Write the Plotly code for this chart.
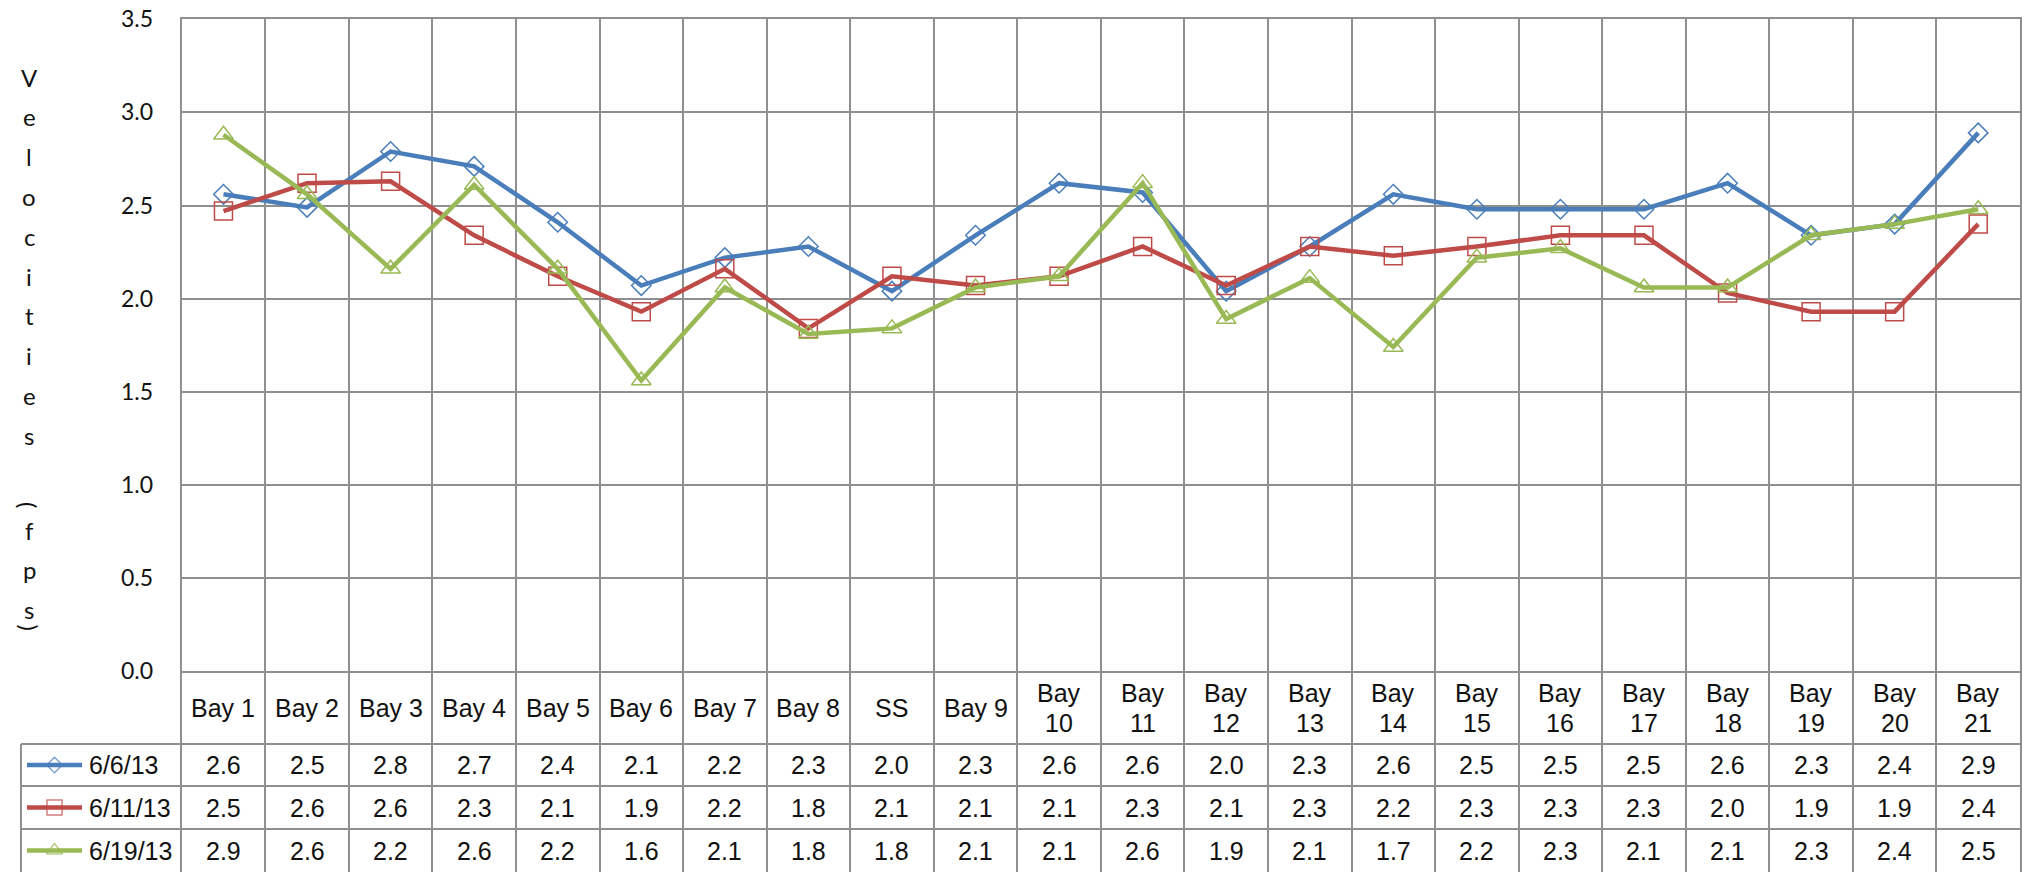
import plotly.graph_objects as go

# ---------------- data ----------------
categories = ["Bay 1", "Bay 2", "Bay 3", "Bay 4", "Bay 5", "Bay 6", "Bay 7", "Bay 8", "SS",
              "Bay 9", "Bay 10", "Bay 11", "Bay 12", "Bay 13", "Bay 14", "Bay 15", "Bay 16",
              "Bay 17", "Bay 18", "Bay 19", "Bay 20", "Bay 21"]
series_names = ["6/6/13", "6/11/13", "6/19/13"]
vel_0606 = [2.56, 2.49, 2.79, 2.71, 2.41, 2.07, 2.22, 2.28, 2.04, 2.34, 2.62, 2.57, 2.04, 2.28,
            2.56, 2.48, 2.48, 2.48, 2.62, 2.34, 2.40, 2.89]
vel_0611 = [2.47, 2.62, 2.63, 2.34, 2.12, 1.93, 2.16, 1.84, 2.12, 2.07, 2.12, 2.28, 2.07, 2.28,
            2.23, 2.28, 2.34, 2.34, 2.03, 1.93, 1.93, 2.40]
vel_0619 = [2.88, 2.56, 2.16, 2.61, 2.16, 1.56, 2.06, 1.81, 1.84, 2.06, 2.12, 2.62, 1.89, 2.11,
            1.74, 2.22, 2.27, 2.06, 2.06, 2.34, 2.40, 2.48]
y_ticks = [0.0, 0.5, 1.0, 1.5, 2.0, 2.5, 3.0, 3.5]
y_title = "Velocities (fps)"

# ---------------- styles / layout geometry (pixels) ----------------
W, H = 2027, 872
PLOT_L, PLOT_R, PLOT_T, AXIS_Y, TABLE_B, LEG_L = 181.7, 2020, 19.3, 671, 872, 21
ROW_LINES = [744, 786, 829]
GRID = "#8f8f8f"
TXT = "#111111"
colors = ["#4A7EBB", "#BE4B48", "#98B954"]
symbols = ["diamond-open", "square-open", "triangle-up-open"]
msizes = [15, 18, 17]
TABLE_FONT = dict(family="Liberation Sans, Arial, sans-serif", size=25, color=TXT)
AXIS_FONT = dict(family="Lato, Carlito, Calibri, sans-serif", size=23, color=TXT)

def yt(py):  # pixel row -> y2 units (pixels above bottom)
    return TABLE_B - py

values = [vel_0606, vel_0611, vel_0619]

fig = go.Figure()
for name, vals, c, s, ms in zip(series_names, values, colors, symbols, msizes):
    fig.add_trace(go.Scatter(
        x=categories, y=vals, name=name, mode="lines+markers",
        line=dict(color=c, width=4.5),
        marker=dict(symbol=s, size=ms, color=c, line=dict(color=c, width=1.5)),
        xaxis="x", yaxis="y", showlegend=False, hoverinfo="x+y+name"))

# legend keys inside the data table
row_centers = [(744 + 786) / 2, (786 + 829) / 2, (829 + 872) / 2]
for i, (c, s, ms) in enumerate(zip(colors, symbols, msizes)):
    yc = yt(row_centers[i])
    fig.add_trace(go.Scatter(
        x=[27, 54.5, 82], y=[yc, yc, yc], mode="lines+markers",
        line=dict(color=c, width=4.5),
        marker=dict(symbol=s, size=[0, ms - 3, 0], color=c, line=dict(color=c, width=1.5)),
        xaxis="x3", yaxis="y2", showlegend=False, hoverinfo="skip"))

annotations = []
# header labels
for cat in categories:
    words = cat.split(" ")
    if len(cat) > 5:
        parts = [(words[0], 15), (words[1], -15)]
    else:
        parts = [(cat, 0)]
    for txt, off in parts:
        annotations.append(dict(x=cat, y=yt((671 + 744) / 2) + off, xref="x2", yref="y2",
                                text=txt, showarrow=False, font=TABLE_FONT,
                                xanchor="center", yanchor="middle"))
# values
for r, vals in enumerate(values):
    for cat, v in zip(categories, vals):
        annotations.append(dict(x=cat, y=yt(row_centers[r]), xref="x2", yref="y2",
                                text=f"{v:.1f}", showarrow=False, font=TABLE_FONT,
                                xanchor="center", yanchor="middle"))
# series names
for r, name in enumerate(series_names):
    annotations.append(dict(x=87, y=yt(row_centers[r]), xref="x3", yref="y2", text=name,
                            showarrow=False, font=TABLE_FONT, xanchor="left", yanchor="middle"))

# stacked y-axis title
py = 77.0
prev = None
for ch in y_title:
    if prev is not None:
        if ch == "(":
            py += 30
        elif prev == "(":
            py += 25
        elif ch == ")":
            py += 18
        else:
            py += 39.8
    prev = ch
    if ch == " ":
        continue
    annotations.append(dict(x=29 / W, y=1 - py / H, xref="paper", yref="paper", text=ch,
                            showarrow=False, font=dict(family=AXIS_FONT["family"], size=24, color=TXT),
                            textangle=90 if ch in "()" else 0,
                            xanchor="center", yanchor="middle"))

shapes = []
for rl in ROW_LINES:
    shapes.append(dict(type="line", xref="paper", yref="y2", x0=LEG_L / W, x1=PLOT_R / W,
                       y0=yt(rl), y1=yt(rl), line=dict(color=GRID, width=2)))
shapes.append(dict(type="line", xref="paper", yref="y2", x0=LEG_L / W, x1=LEG_L / W,
                   y0=yt(744), y1=yt(872), line=dict(color=GRID, width=2)))

dom_x = [PLOT_L / W, PLOT_R / W]
fig.update_layout(
    width=W, height=H, margin=dict(l=0, r=0, t=0, b=0, pad=0, autoexpand=False),
    paper_bgcolor="white", plot_bgcolor="white",
    xaxis=dict(type="category", categoryorder="array", categoryarray=categories,
               range=[-0.5, len(categories) - 0.5], domain=dom_x, anchor="y",
               tickson="boundaries", ticks="", showticklabels=False, automargin=False,
               showgrid=True, gridcolor=GRID, gridwidth=2,
               showline=True, linecolor=GRID, linewidth=2, mirror=True, zeroline=False),
    yaxis=dict(range=[0, 3.5], domain=[1 - AXIS_Y / H, 1 - PLOT_T / H], anchor="x",
               tickvals=y_ticks, tickformat=".1f", ticks="", ticklabelstandoff=22,
               tickfont=AXIS_FONT, showgrid=True, gridcolor=GRID, gridwidth=2, automargin=False,
               showline=True, linecolor=GRID, linewidth=2, mirror=True, zeroline=False),
    xaxis2=dict(type="category", categoryorder="array", categoryarray=categories,
                range=[-0.5, len(categories) - 0.5], domain=dom_x, anchor="y2",
                tickson="boundaries", ticks="", showticklabels=False, automargin=False,
                showgrid=True, gridcolor=GRID, gridwidth=2, showline=False, zeroline=False),
    yaxis2=dict(range=[0, TABLE_B - AXIS_Y], domain=[0, 1 - AXIS_Y / H], anchor="x2",
                showgrid=False, showticklabels=False, ticks="", zeroline=False, automargin=False,
                showline=True, linecolor=GRID, linewidth=2, mirror=True),
    xaxis3=dict(range=[LEG_L, PLOT_L], domain=[LEG_L / W, PLOT_L / W], anchor="y2",
                visible=False, automargin=False),
    annotations=annotations, shapes=shapes,
)

fig.write_html("out.html", config={"displayModeBar": False},
               post_script="document.body.style.margin='0';document.body.style.overflow='hidden';")
